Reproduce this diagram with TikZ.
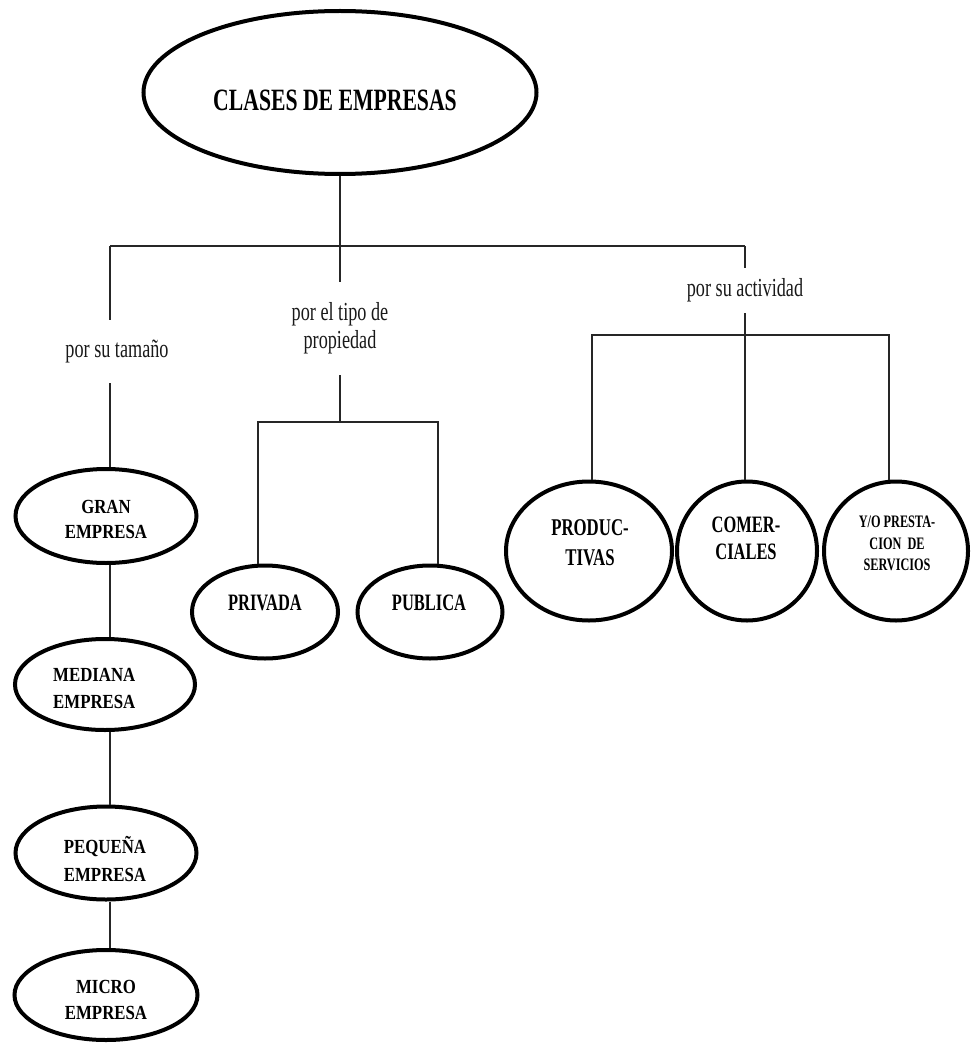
\documentclass[tikz,border=0pt]{standalone}
\usepackage{fontspec}
\setmainfont{Liberation Serif}[FakeStretch=0.70]
\newfontfamily\widerserif{Liberation Serif}[FakeStretch=0.84]
\usetikzlibrary{shapes.geometric}
\begin{document}
\begin{tikzpicture}[x=1pt,y=-1pt,
  oval/.style={draw=black, line width=4pt, ellipse, inner sep=0pt, fill=white},
  tag/.style={text=black, inner sep=0pt, align=center},
  branch/.style={font=\fontsize{26}{28}\selectfont, align=center, inner sep=0pt, text=black!90},
  link/.style={draw=black!85, line width=2pt},
]
\useasboundingbox (0,0) rectangle (970,1043);

% root
\node[oval, minimum width=393pt, minimum height=163pt] (clases) at (340,92.5) {};
\node[tag, font=\bfseries\fontsize{31}{34}\selectfont] (clasesT) at (335,100) {CLASES DE EMPRESAS};

% branch labels
\node[branch, minimum height=63pt] (tam) at (117,351.5) {por su tamaño};
\node[branch, minimum height=93pt] (prop) at (340,328.5) {por el tipo de\\propiedad};
\node[branch, minimum height=45pt] (act) at (745,290.5) {por su actividad};

% size column
\node[oval, minimum width=181pt, minimum height=94pt] (gran) at (106,516) {};
\node[tag, font=\widerserif\bfseries\fontsize{20}{25}\selectfont] (granT) at (106,519.5) {GRAN\\EMPRESA};
\node[oval, minimum width=180pt, minimum height=91pt] (mediana) at (105,684.5) {};
\node[tag, anchor=west, align=left, font=\widerserif\bfseries\fontsize{20}{27}\selectfont] (medianaT) at (53,688.5) {MEDIANA\\EMPRESA};
\node[oval, minimum width=181pt, minimum height=93pt] (pequena) at (106,853) {};
\node[tag, font=\widerserif\bfseries\fontsize{20}{28}\selectfont] (pequenaT) at (105,859) {PEQUEÑA\\EMPRESA};
\node[oval, minimum width=183pt, minimum height=90pt] (micro) at (106,995) {};
\node[tag, font=\widerserif\bfseries\fontsize{20}{26}\selectfont] (microT) at (106,1000) {MICRO\\EMPRESA};

% ownership
\node[oval, minimum width=146pt, minimum height=93pt] (privada) at (265,612) {};
\node[tag, font=\bfseries\fontsize{23.5}{26}\selectfont] (privadaT) at (265,603) {PRIVADA};
\node[oval, minimum width=145pt, minimum height=93pt] (publica) at (430,612) {};
\node[tag, font=\bfseries\fontsize{23.5}{26}\selectfont] (publicaT) at (429,603) {PUBLICA};

% activity
\node[oval, minimum width=166pt, minimum height=139pt] (prod) at (589,551) {};
\node[tag, font=\bfseries\fontsize{24}{30}\selectfont] (prodT) at (590,543) {PRODUC-\\TIVAS};
\node[oval, minimum width=140pt, minimum height=139pt] (comer) at (747,551) {};
\node[tag, font=\bfseries\fontsize{23.5}{27}\selectfont] (comerT) at (746,538.5) {COMER-\\CIALES};
\node[oval, minimum width=144pt, minimum height=139pt] (yo) at (896,551) {};
\node[tag, font=\bfseries\fontsize{17.5}{21.5}\selectfont] (yoT) at (897,543.5) {Y/O PRESTA-\\CION~~DE\\SERVICIOS};

% connectors
\coordinate (barL) at (110,246);
\coordinate (barR) at (745,246);
\coordinate (propL) at (258,422);
\coordinate (propR) at (438,422);
\coordinate (actL) at (592,335);
\coordinate (actR) at (889,335);

\draw[link] (barL) -- (barR);
\draw[link] (clases.south) -- (prop.north);
\draw[link] (barL) -- (barL |- tam.north);
\draw[link] (barL |- tam.south) -- (barL |- gran.north);
\draw[link] (barL |- gran.south) -- (barL |- mediana.north);
\draw[link] (barL |- mediana.south) -- (barL |- pequena.north);
\draw[link] (barL |- pequena.south) -- (barL |- micro.north);

\draw[link] (prop.south) -- (prop.south |- propL);
\draw[link] (propL |- privada.north) -- (propL) -- (propR) -- (propR |- publica.north);

\draw[link] (barR) -- (barR |- act.north);
\draw[link] (barR |- act.south) -- (barR |- comer.north);
\draw[link] (actL |- prod.north) -- (actL) -- (actR) -- (actR |- yo.north);
\end{tikzpicture}
\end{document}
